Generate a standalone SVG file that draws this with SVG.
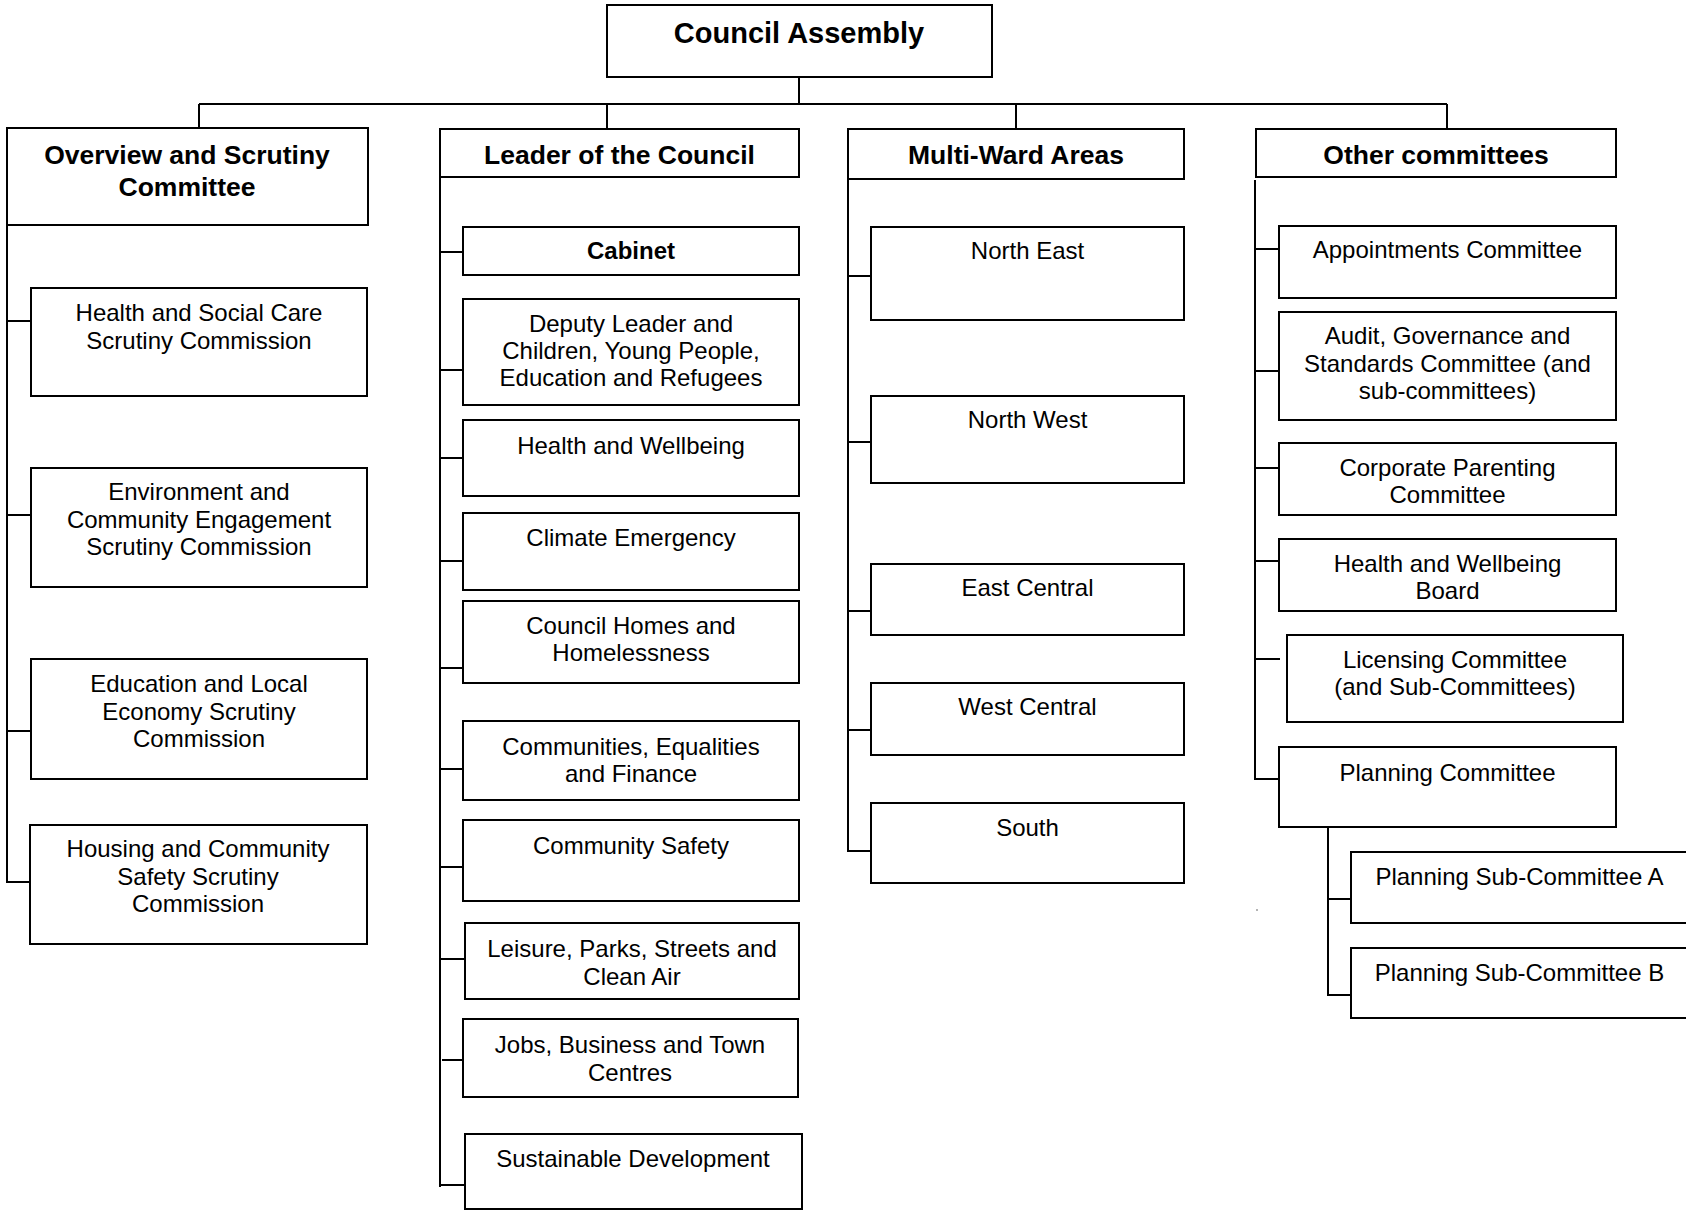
<svg xmlns="http://www.w3.org/2000/svg" width="1686" height="1210" viewBox="0 0 1686 1210">
<style>
rect{fill:#fff;stroke:#000;stroke-width:2}
.c line{stroke:#000;stroke-width:2}
text{font-family:"Liberation Sans",Arial,sans-serif;font-size:24px;fill:#000;text-anchor:middle}
.h{font-weight:bold;font-size:26.5px}
.b{font-weight:bold}
</style>
<rect x="0" y="0" width="1686" height="1210" style="fill:#fff;stroke:none"/>
<g class="c" id="connectors">
<line x1="799" y1="77" x2="799" y2="104"/>
<line x1="199" y1="104" x2="1447" y2="104"/>
<line x1="199" y1="104" x2="199" y2="128"/>
<line x1="607" y1="104" x2="607" y2="129"/>
<line x1="1016" y1="104" x2="1016" y2="129"/>
<line x1="1447" y1="104" x2="1447" y2="129"/>
<line x1="7" y1="225" x2="7" y2="883"/>
<line x1="7" y1="321" x2="31" y2="321"/>
<line x1="7" y1="515" x2="31" y2="515"/>
<line x1="7" y1="731" x2="31" y2="731"/>
<line x1="7" y1="882" x2="31" y2="882"/>
<line x1="440" y1="177" x2="440" y2="1187"/>
<line x1="440" y1="252" x2="463" y2="252"/>
<line x1="440" y1="370" x2="463" y2="370"/>
<line x1="440" y1="458" x2="463" y2="458"/>
<line x1="440" y1="561" x2="463" y2="561"/>
<line x1="440" y1="668" x2="463" y2="668"/>
<line x1="440" y1="769" x2="463" y2="769"/>
<line x1="440" y1="867" x2="463" y2="867"/>
<line x1="440" y1="959" x2="465" y2="959"/>
<line x1="442" y1="1060" x2="463" y2="1060"/>
<line x1="440" y1="1185" x2="465" y2="1185"/>
<line x1="848" y1="179" x2="848" y2="852"/>
<line x1="848" y1="276" x2="871" y2="276"/>
<line x1="848" y1="442" x2="871" y2="442"/>
<line x1="848" y1="611" x2="871" y2="611"/>
<line x1="848" y1="730" x2="871" y2="730"/>
<line x1="848" y1="851" x2="871" y2="851"/>
<line x1="1255" y1="180" x2="1255" y2="780"/>
<line x1="1255" y1="249" x2="1279" y2="249"/>
<line x1="1255" y1="371" x2="1279" y2="371"/>
<line x1="1255" y1="468" x2="1279" y2="468"/>
<line x1="1255" y1="561" x2="1279" y2="561"/>
<line x1="1255" y1="659" x2="1280" y2="659"/>
<line x1="1255" y1="779" x2="1279" y2="779"/>
<line x1="1328" y1="827" x2="1328" y2="996"/>
<line x1="1328" y1="899" x2="1351" y2="899"/>
<line x1="1328" y1="995" x2="1351" y2="995"/>
</g>
<g id="council-assembly"><rect x="607" y="5" width="385" height="72"/><text x="799" y="43" class="h" style="font-size:29px">Council Assembly</text></g>
<g id="overview"><rect x="7" y="128" width="361" height="97"/><text x="187" y="164" class="h">Overview and Scrutiny</text><text x="187" y="196" class="h">Committee</text></g>
<g id="hsc"><rect x="31" y="288" width="336" height="108"/><text x="199" y="321">Health and Social Care</text><text x="199" y="349">Scrutiny Commission</text></g>
<g id="ece"><rect x="31" y="468" width="336" height="119"/><text x="199" y="500">Environment and</text><text x="199" y="528">Community Engagement</text><text x="199" y="555">Scrutiny Commission</text></g>
<g id="ele"><rect x="31" y="659" width="336" height="120"/><text x="199" y="692">Education and Local</text><text x="199" y="720">Economy Scrutiny</text><text x="199" y="747">Commission</text></g>
<g id="hcs"><rect x="30" y="825" width="337" height="119"/><text x="198" y="857">Housing and Community</text><text x="198" y="885">Safety Scrutiny</text><text x="198" y="912">Commission</text></g>
<g id="leader"><rect x="440" y="129" width="359" height="48"/><text x="619.5" y="164" class="h">Leader of the Council</text></g>
<g id="cabinet"><rect x="463" y="227" width="336" height="48"/><text x="631" y="259" class="b">Cabinet</text></g>
<g id="deputy"><rect x="463" y="299" width="336" height="106"/><text x="631" y="332">Deputy Leader and</text><text x="631" y="359">Children, Young People,</text><text x="631" y="386">Education and Refugees</text></g>
<g id="hw"><rect x="463" y="420" width="336" height="76"/><text x="631" y="454">Health and Wellbeing</text></g>
<g id="climate"><rect x="463" y="513" width="336" height="77"/><text x="631" y="546">Climate Emergency</text></g>
<g id="homes"><rect x="463" y="601" width="336" height="82"/><text x="631" y="634">Council Homes and</text><text x="631" y="661">Homelessness</text></g>
<g id="communities"><rect x="463" y="721" width="336" height="79"/><text x="631" y="755">Communities, Equalities</text><text x="631" y="782">and Finance</text></g>
<g id="safety"><rect x="463" y="820" width="336" height="81"/><text x="631" y="854">Community Safety</text></g>
<g id="leisure"><rect x="465" y="923" width="334" height="76"/><text x="632" y="957">Leisure, Parks, Streets and</text><text x="632" y="985">Clean Air</text></g>
<g id="jobs"><rect x="463" y="1019" width="335" height="78"/><text x="630" y="1053">Jobs, Business and Town</text><text x="630" y="1081">Centres</text></g>
<g id="sustainable"><rect x="465" y="1134" width="337" height="75"/><text x="633" y="1167">Sustainable Development</text></g>
<g id="multiward"><rect x="848" y="129" width="336" height="50"/><text x="1016" y="164" class="h">Multi-Ward Areas</text></g>
<g id="ne"><rect x="871" y="227" width="313" height="93"/><text x="1027.5" y="259">North East</text></g>
<g id="nw"><rect x="871" y="396" width="313" height="87"/><text x="1027.5" y="428">North West</text></g>
<g id="ec"><rect x="871" y="564" width="313" height="71"/><text x="1027.5" y="596">East Central</text></g>
<g id="wc"><rect x="871" y="683" width="313" height="72"/><text x="1027.5" y="715">West Central</text></g>
<g id="south"><rect x="871" y="803" width="313" height="80"/><text x="1027.5" y="836">South</text></g>
<g id="other"><rect x="1256" y="129" width="360" height="48"/><text x="1436" y="164" class="h">Other committees</text></g>
<g id="appointments"><rect x="1279" y="226" width="337" height="72"/><text x="1447.5" y="258">Appointments Committee</text></g>
<g id="audit"><rect x="1279" y="312" width="337" height="108"/><text x="1447.5" y="344">Audit, Governance and</text><text x="1447.5" y="372">Standards Committee (and</text><text x="1447.5" y="399">sub-committees)</text></g>
<g id="corporate"><rect x="1279" y="443" width="337" height="72"/><text x="1447.5" y="476">Corporate Parenting</text><text x="1447.5" y="503">Committee</text></g>
<g id="hwb"><rect x="1279" y="539" width="337" height="72"/><text x="1447.5" y="572">Health and Wellbeing</text><text x="1447.5" y="599">Board</text></g>
<g id="licensing"><rect x="1287" y="635" width="336" height="87"/><text x="1455" y="668">Licensing Committee</text><text x="1455" y="695">(and Sub-Committees)</text></g>
<g id="planning"><rect x="1279" y="747" width="337" height="80"/><text x="1447.5" y="781">Planning Committee</text></g>
<g id="psa"><rect x="1351" y="852" width="338" height="71"/><text x="1519.5" y="885">Planning Sub-Committee A</text></g>
<g id="psb"><rect x="1351" y="948" width="338" height="70"/><text x="1519.5" y="981">Planning Sub-Committee B</text></g>
<circle cx="1257" cy="910" r="0.8" fill="#555"/>
</svg>
